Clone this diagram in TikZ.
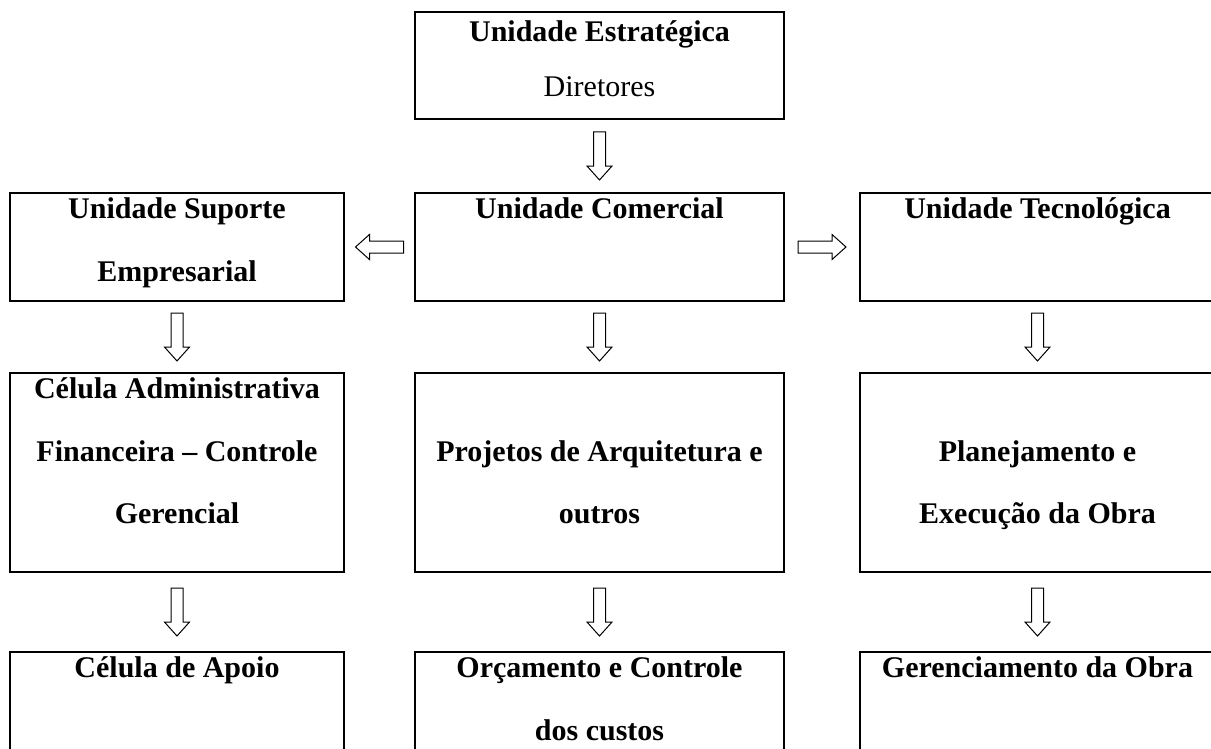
\documentclass[tikz,border=0pt]{standalone}
\usepackage{fontspec}
\setmainfont{Liberation Serif}
\usetikzlibrary{calc,positioning}

\newcommand{\arrhalf}{18pt}
\newcommand{\arrhead}{10.5pt}
\newcommand{\arrshaft}{4.5pt}
\newcommand{\arrwing}{9.4pt}
\newcommand{\topstrut}{\rule{0pt}{20pt}}

\tikzset{
  box/.style={draw, line width=2.2pt, inner sep=0pt},
  txt/.style={font=\fontsize{22.5}{47}\selectfont\bfseries, align=center,
    inner sep=0pt},
  blk/.style={draw, line width=0.75pt, line join=miter, to path={
    ($(\tikztostart)!0.5!(\tikztotarget)$) coordinate (m)
    ($(m)!\arrhalf!(\tikztostart)$) coordinate (s)
    ($(m)!\arrhalf!(\tikztotarget)$) coordinate (e)
    ($(e)!\arrhead!(s)$) coordinate (h)
    ($(s)!\arrshaft!90:(e)$) -- ($(h)!\arrshaft!90:(e)$) -- ($(h)!\arrwing!90:(e)$)
    -- (e) -- ($(h)!\arrwing!-90:(e)$) -- ($(h)!\arrshaft!-90:(e)$)
    -- ($(s)!\arrshaft!-90:(e)$) -- cycle}}
}

\begin{document}
\begin{tikzpicture}[x=0.75pt, y=-0.75pt]
  \useasboundingbox (0,0) rectangle (1211,749);
  \clip (0,0) rectangle (1211,749);

  % boxes
  \node[box, minimum width=276.75pt, minimum height=80.25pt] (str) at (599.5,65.5) {};
  \node[box, minimum width=250.5pt, minimum height=81pt] (sup) at (177,247) {};
  \node[box, minimum width=276.75pt, minimum height=81pt] (com) at (599.5,247) {};
  \node[box, minimum width=266.25pt, minimum height=81pt] (tec) at (1037.5,247) {};
  \node[box, minimum width=250.5pt, minimum height=149.25pt] (adm) at (177,472.5) {};
  \node[box, minimum width=276.75pt, minimum height=149.25pt] (prj) at (599.5,472.5) {};
  \node[box, minimum width=266.25pt, minimum height=149.25pt] (pla) at (1037.5,472.5) {};
  \node[box, minimum width=250.5pt, minimum height=111pt] (apo) at (177,726) {};
  \node[box, minimum width=276.75pt, minimum height=111pt] (orc) at (599.5,726) {};
  \node[box, minimum width=266.25pt, minimum height=111pt] (ger) at (1037.5,726) {};

  % texts
  \node[txt, below=3pt of str.north] (strT) {\topstrut Unidade Estratégica\\[-6pt]\textmd{Diretores}};
  \node[txt, below=0pt of sup.north] (supT) {\topstrut Unidade Suporte\\Empresarial};
  \node[txt, below=0pt of com.north] (comT) {\topstrut Unidade Comercial};
  \node[txt, below=0pt of tec.north] (tecT) {\topstrut Unidade Tecnológica};
  \node[txt, below=0pt of adm.north] (admT) {\topstrut Célula Administrativa\\Financeira – Controle\\Gerencial};
  \node[txt, below=0pt of prj.north] (prjT) {\topstrut\\Projetos de Arquitetura e\\outros};
  \node[txt, below=0pt of pla.north] (plaT) {\topstrut\\Planejamento e\\Execução da Obra};
  \node[txt, below=0pt of apo.north] (apoT) {\topstrut Célula de Apoio};
  \node[txt, below=0pt of orc.north] (orcT) {\topstrut Orçamento e Controle\\dos custos};
  \node[txt, below=0pt of ger.north] (gerT) {\topstrut Gerenciamento da Obra};

  % block arrows
  \foreach \a/\b in {str.south/com.north, com.west/sup.east, com.east/tec.west,
      sup.south/adm.north, com.south/prj.north, tec.south/pla.north,
      adm.south/apo.north, prj.south/orc.north, pla.south/ger.north}
    \draw[blk] (\a) to (\b);
\end{tikzpicture}
\end{document}
